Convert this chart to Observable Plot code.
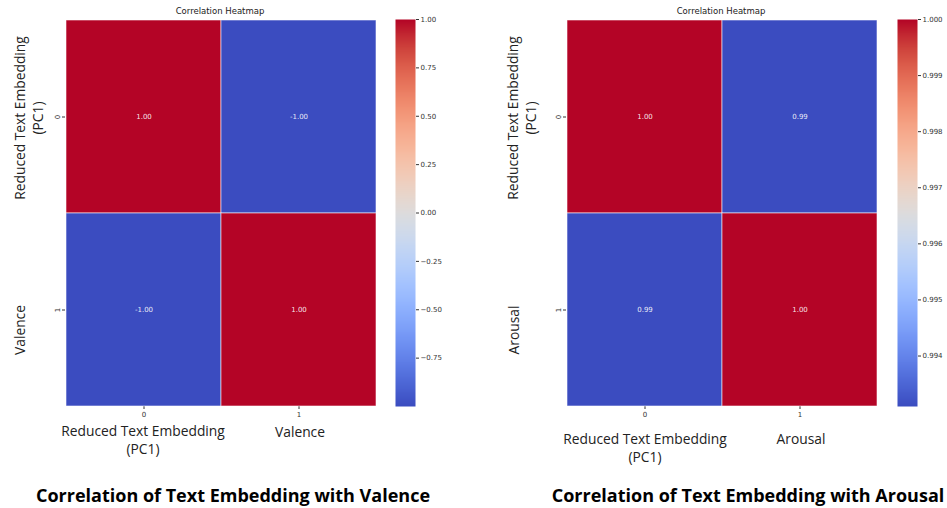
<!DOCTYPE html>
<html>
<head>
<meta charset="utf-8">
<script src="https://cdn.jsdelivr.net/npm/d3@7"></script>
<script src="https://cdn.jsdelivr.net/npm/@observablehq/plot@0.6"></script>
<style>
  html, body { margin: 0; padding: 0; background: #fff; }
  #root { position: relative; width: 947px; height: 508px; overflow: hidden; background: #fff; }
  .abs { position: absolute; }
  .big { font-family: "Open Sans", sans-serif; font-size: 13.8px; color: #222; white-space: nowrap; text-align: center; line-height: 18px; }
  .title { font-family: "Open Sans", sans-serif; font-weight: 700; font-size: 18px; color: #000; white-space: nowrap; }
  .small { font-family: "DejaVu Sans", sans-serif; font-size: 8.5px; color: #222; white-space: nowrap; }
  .c { transform: translate(-50%, -50%); }
  .r { transform: translate(-50%, -50%) rotate(-90deg); }
</style>
</head>
<body>
<div id="root"></div>
<script>
// ---- data ----
const indexLabels = ["0", "1"];
const valenceMatrix = [[1.00, -1.00], [-1.00, 1.00]];
const arousalMatrix = [[1.00, 0.9931], [0.9931, 1.00]];
const valenceTicks = [1.00, 0.75, 0.50, 0.25, 0.00, -0.25, -0.50, -0.75];
const arousalTicks = [1.000, 0.999, 0.998, 0.997, 0.996, 0.995, 0.994];
const valenceDomain = [-1.00, 1.00];
const arousalDomain = [0.9931, 1.000];
// coolwarm palette stops
const coolwarm = ["#3b4cc0","#4d68d7","#6282ea","#779af7","#8db0fe","#a3c2ff","#b8d0f9","#ccd9ee","#dddddd",
                  "#ecd3c5","#f5c4ad","#f7b194","#f49a7b","#ec7f63","#de604d","#cb3e38","#b40426"];
const interp = d3.interpolateRgbBasis(coolwarm);

const root = document.getElementById("root");

function toCells(m) {
  const out = [];
  m.forEach((row, i) => row.forEach((v, j) => out.push({row: indexLabels[i], col: indexLabels[j], v})));
  return out;
}
const minus = s => s.replace("-", "\u2212");

function place(el, left, top) {
  el.style.position = "absolute";
  el.style.left = left + "px";
  el.style.top = top + "px";
  root.appendChild(el);
}

function panel(offset, matrix, domain, ticks, tickFmt, cbLeft) {
  const cells = toCells(matrix);
  const color = {type: "linear", domain, interpolate: interp};
  const heat = Plot.plot({
    width: 380, height: 420,
    marginLeft: 65, marginRight: 4, marginTop: 19, marginBottom: 14,
    style: {fontFamily: "DejaVu Sans", fontSize: "7px", color: "#333", background: "transparent"},
    x: {type: "band", domain: indexLabels, padding: 0, label: null, tickSize: 3, tickPadding: 3},
    y: {type: "band", domain: indexLabels, padding: 0, label: null, tickSize: 3, tickPadding: 3, tickRotate: -90},
    color,
    marks: [
      Plot.cell(cells, {x: "col", y: "row", fill: "v", stroke: "white", strokeWidth: 0.8, strokeOpacity: 0.7}),
      Plot.text(cells, {x: "col", y: "row", text: d => d.v.toFixed(2), fill: "white", fillOpacity: 0.9, fontSize: 7})
    ]
  });
  place(heat, offset, 0);

  const cb = Plot.plot({
    width: 60, height: 420,
    marginLeft: 0, marginRight: 40, marginTop: 19, marginBottom: 14,
    style: {fontFamily: "DejaVu Sans", fontSize: "7px", color: "#333", background: "transparent"},
    x: {domain: [0, 1], axis: null},
    y: {domain, axis: "right", ticks, tickFormat: tickFmt, tickSize: 3, tickPadding: 2, label: null},
    color,
    marks: [
      Plot.raster({fill: (x, y) => y, x1: 0, x2: 1, y1: domain[0], y2: domain[1], width: 1, height: 400, imageRendering: "auto"})
    ]
  });
  place(cb, cbLeft, 0);
}

panel(0, valenceMatrix, valenceDomain, valenceTicks, d => minus(d.toFixed(2)), 395);
panel(501, arousalMatrix, arousalDomain, arousalTicks, d => d.toFixed(3), 897);

function text(cls, html, x, y) {
  const d = document.createElement("div");
  d.className = "abs " + cls;
  d.innerHTML = html;
  d.style.left = x + "px";
  d.style.top = y + "px";
  root.appendChild(d);
}
// small heatmap titles
text("small c", "Correlation Heatmap", 220, 11);
text("small c", "Correlation Heatmap", 721, 11);
// y axis labels (rotated)
text("big r", "Reduced Text Embedding<br>(PC1)", 29, 118);
text("big r", "Valence", 20, 330);
text("big r", "Reduced Text Embedding<br>(PC1)", 522, 118);
text("big r", "Arousal", 514, 330);
// x axis labels
text("big c", "Reduced Text Embedding<br>(PC1)", 143, 440);
text("big c", "Valence", 300, 432);
text("big c", "Reduced Text Embedding<br>(PC1)", 645, 448);
text("big c", "Arousal", 801, 439);
// bottom titles
text("title c", "Correlation of Text Embedding with Valence", 233, 495);
text("title c", "Correlation of Text Embedding with Arousal", 748, 495);
</script>
</body>
</html>
